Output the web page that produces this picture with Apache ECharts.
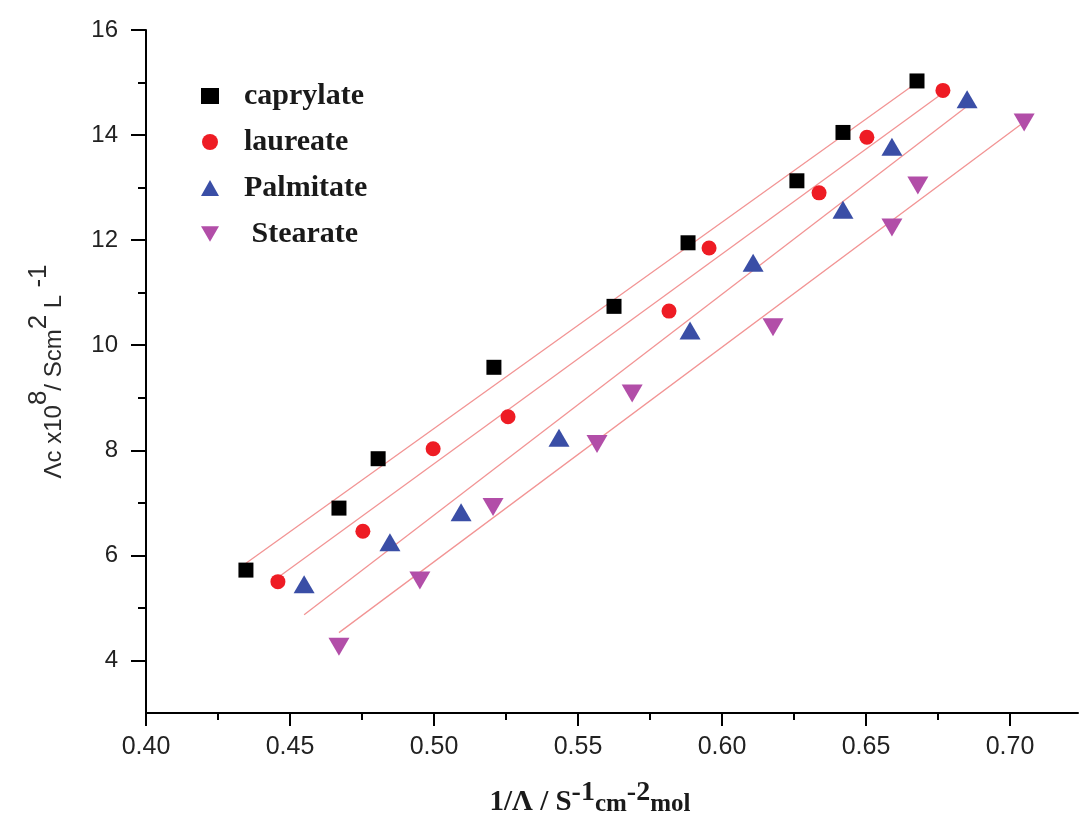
<!DOCTYPE html>
<html>
<head>
<meta charset="utf-8">
<script src="https://cdn.jsdelivr.net/npm/echarts@6/dist/echarts.min.js"></script>
<style>
html,body{margin:0;padding:0;background:#fff;}
#chart{width:1080px;height:816px;}
</style>
</head>
<body>
<div id="chart"></div>
<script>
// ---- data ----
const seriesNames = ['caprylate', 'laureate', 'Palmitate', ' Stearate'];

const caprylateX = [0.4347, 0.4670, 0.4806, 0.5208, 0.5625, 0.5882, 0.6260, 0.6420, 0.6677];
const caprylateY = [5.72, 6.90, 7.84, 9.58, 10.74, 11.95, 13.13, 14.05, 15.03];

const laureateX = [0.4458, 0.4753, 0.4997, 0.5257, 0.5816, 0.5955, 0.6337, 0.6503, 0.6767];
const laureateY = [5.50, 6.46, 8.03, 8.64, 10.65, 11.85, 12.90, 13.96, 14.85];

const palmitateX = [0.4549, 0.4847, 0.5094, 0.5434, 0.5889, 0.6108, 0.6420, 0.6590, 0.6851];
const palmitateY = [5.45, 6.25, 6.82, 8.24, 10.28, 11.57, 12.58, 13.78, 14.68];

const stearateX = [0.4670, 0.4951, 0.5205, 0.5566, 0.5688, 0.6177, 0.6590, 0.6680, 0.7049];
const stearateY = [4.26, 5.52, 6.92, 8.12, 9.08, 10.34, 12.24, 13.04, 14.24];

// fitted straight lines (end points)
const caprylateFitX = [0.4347, 0.6677];
const caprylateFitY = [5.85, 15.00];
const laureateFitX = [0.4458, 0.6767];
const laureateFitY = [5.58, 14.80];
const palmitateFitX = [0.4549, 0.6851];
const palmitateFitY = [4.87, 14.55];
const stearateFitX = [0.4670, 0.7049];
const stearateFitY = [4.53, 14.25];

// axis ticks
const xMajorTicks = [0.40, 0.45, 0.50, 0.55, 0.60, 0.65, 0.70];
const xMinorTicks = [0.425, 0.475, 0.525, 0.575, 0.625, 0.675];
const yMajorTicks = [4, 6, 8, 10, 12, 14, 16];
const yMinorTicks = [5, 7, 9, 11, 13, 15];

// ---- build ----
const zip = (xs, ys) => xs.map((x, i) => [x, ys[i]]);

const colors = ['#000000', '#ee1c24', '#3a4ea6', '#b24ea8'];
const symbols = ['rect', 'circle', 'triangle', 'path://M0,0 L20,0 L10,17 Z'];
const sizes = [15, 15, [21, 18], [21, 18]];
const pts = [zip(caprylateX, caprylateY), zip(laureateX, laureateY), zip(palmitateX, palmitateY), zip(stearateX, stearateY)];
const fits = [zip(caprylateFitX, caprylateFitY), zip(laureateFitX, laureateFitY), zip(palmitateFitX, palmitateFitY), zip(stearateFitX, stearateFitY)];

const series = [];
fits.forEach((d, i) => {
  series.push({
    name: 'fit' + i, type: 'line', data: d, showSymbol: false, symbol: 'none',
    xAxisIndex: 0, yAxisIndex: 0,
    lineStyle: { color: '#f29494', width: 1.3 }, z: 2, silent: true
  });
});
pts.forEach((d, i) => {
  series.push({
    name: seriesNames[i], type: 'scatter', data: d,
    xAxisIndex: 0, yAxisIndex: 0,
    symbol: symbols[i], symbolSize: sizes[i],
    itemStyle: { color: colors[i], opacity: 1 }, z: 3
  });
});

const axisFont = 'Liberation Sans, Arial, sans-serif';
const serif = 'Liberation Serif, Times New Roman, serif';

const option = {
  animation: false,
  backgroundColor: '#fff',
  grid: { left: 146, right: 2, top: 30, bottom: 103, outerBoundsMode: 'none', containLabel: false },
  legend: {
    data: seriesNames,
    orient: 'vertical', left: 196, top: 76,
    itemWidth: 18, itemHeight: 16, itemGap: 16,
    textStyle: { fontFamily: serif, fontSize: 30, fontWeight: 'bold', color: '#1a1a1a', padding: [0, 0, 0, 20] }
  },
  xAxis: [{
    type: 'value', min: 0.40, max: 0.7236, position: 'bottom',
    axisLine: { show: true, onZero: false, lineStyle: { color: '#000', width: 2 } },
    axisTick: { show: true, customValues: xMajorTicks, length: 13, inside: false, lineStyle: { color: '#000', width: 2 } },
    axisLabel: { customValues: xMajorTicks, margin: 22, fontFamily: axisFont, fontSize: 25, color: '#222',
      formatter: v => v.toFixed(2) },
    splitLine: { show: false },
    name: '{m|1/Λ / S}{sup|-1}{s|cm}{sup|-2}{s|mol}',
    nameLocation: 'middle', nameGap: 66,
    nameTextStyle: {
      padding: [0, 44, 0, 0],
      rich: {
        m: { fontFamily: serif, fontSize: 29, fontWeight: 'bold', color: '#1a1a1a', verticalAlign: 'bottom', lineHeight: 38 },
        sup: { fontFamily: serif, fontSize: 28, fontWeight: 'bold', color: '#1a1a1a', verticalAlign: 'top', lineHeight: 38 },
        s: { fontFamily: serif, fontSize: 25, fontWeight: 'bold', color: '#1a1a1a', verticalAlign: 'bottom', lineHeight: 36 }
      }
    }
  }, {
    type: 'value', min: 0.40, max: 0.7236, position: 'bottom', gridIndex: 0,
    axisLine: { show: false },
    axisTick: { show: true, customValues: xMinorTicks, length: 7, lineStyle: { color: '#000', width: 2 } },
    axisLabel: { show: false }, splitLine: { show: false }
  }],
  yAxis: [{
    type: 'value', min: 3, max: 16, position: 'left',
    axisLine: { show: true, onZero: false, lineStyle: { color: '#000', width: 2 } },
    axisTick: { show: true, customValues: yMajorTicks, length: 15, lineStyle: { color: '#000', width: 2 } },
    axisLabel: { customValues: yMajorTicks, margin: 28, fontFamily: axisFont, fontSize: 24, color: '#222' },
    splitLine: { show: false },
    name: '{m|Λc x10}{sup|8}{m|/ Scm}{sup|2}{m| L}{sup| -1}',
    nameLocation: 'middle', nameGap: 80, nameRotate: 90,
    nameTextStyle: {
      rich: {
        m: { fontFamily: axisFont, fontSize: 24, color: '#2a2a2a', verticalAlign: 'bottom', lineHeight: 40 },
        sup: { fontFamily: axisFont, fontSize: 26, color: '#2a2a2a', verticalAlign: 'top', lineHeight: 40 }
      }
    }
  }, {
    type: 'value', min: 3, max: 16, position: 'left', gridIndex: 0,
    axisLine: { show: false },
    axisTick: { show: true, customValues: yMinorTicks, length: 8, lineStyle: { color: '#000', width: 2 } },
    axisLabel: { show: false }, splitLine: { show: false }
  }],
  series: series
};

const chart = echarts.init(document.getElementById('chart'), null, { renderer: 'canvas' });
chart.setOption(option);
</script>
</body>
</html>
